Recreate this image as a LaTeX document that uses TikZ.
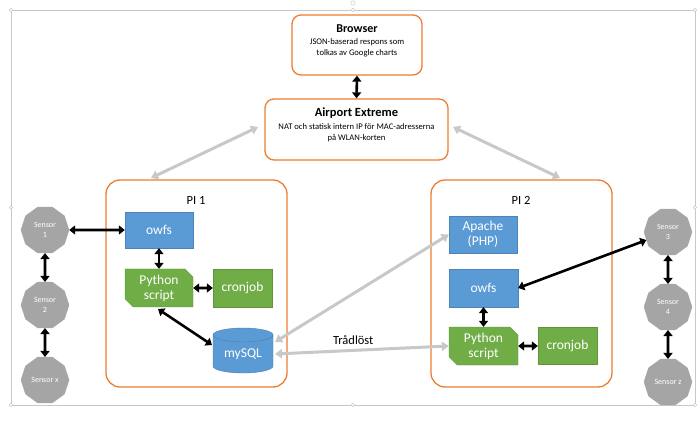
\documentclass[tikz,border=0pt]{standalone}
\usepackage{fontspec}
\setmainfont{Carlito}
\usetikzlibrary{shapes.geometric,shapes.misc,arrows.meta}
\definecolor{ora}{HTML}{ED7D31}
\definecolor{bl}{HTML}{5B9BD5}
\definecolor{gr}{HTML}{70AD47}
\definecolor{sens}{HTML}{A5A5A5}
\definecolor{frm}{HTML}{C8C8C8}
\begin{document}
\begin{tikzpicture}[x=1pt,y=1pt,
  pibox/.style={draw=ora,line width=1.3pt,rounded corners=14pt,fill=white},
  topbox/.style={draw=ora,line width=1.3pt,rounded corners=9pt,fill=white,align=center},
  bluebox/.style={fill=bl,draw=bl!85!black,line width=0.3pt,text=white,font=\fontsize{13.5}{15}\selectfont,align=center,inner sep=0pt},
  greenbox/.style={fill=gr,draw=gr!85!black,line width=0.3pt,text=white,font=\fontsize{13.5}{15}\selectfont,align=center,inner sep=0pt},
  pyshape/.style={greenbox,chamfered rectangle,chamfered rectangle corners={north east,south west},chamfered rectangle xsep=4pt,chamfered rectangle ysep=4pt},
  sensor/.style={regular polygon,regular polygon sides=10,fill=sens,draw=sens,minimum size=48pt,inner sep=0pt,text=white,align=center,font=\fontsize{8}{9.5}\selectfont},
  blk/.style={line width=2.6pt,{Triangle[length=6pt,width=9pt]}-{Triangle[length=6pt,width=9pt]},black},
  gry/.style={line width=3pt,{Triangle[length=7pt,width=9pt]}-{Triangle[length=7pt,width=9pt]},frm},
]
\useasboundingbox (0,0) rectangle (700,420);
% selection frame
\draw[frm,line width=0.6pt] (11,15) rectangle (695,410);
\foreach \p in {(11,15),(11,410),(695,15),(695,410),(353,410),(353,15),(11,212.5),(695,212.5)}
  \draw[frm,fill=white,line width=0.5pt] \p circle (1.8pt);
\draw[frm,fill=white,line width=0.5pt] (353,417) circle (2.2pt);

% top boxes
\node[topbox,minimum width=130pt,minimum height=60pt] (browser) at (357,375) {};
\node[font=\bfseries\fontsize{12}{14}\selectfont] (browsert) at (357,391) {Browser};
\node[font=\fontsize{8.6}{10.5}\selectfont,align=center] (browserd) at (357,372) {JSON-baserad respons som\\tolkas av Google charts};
\node[topbox,minimum width=183pt,minimum height=61pt] (airport) at (356.5,290.5) {};
\node[font=\bfseries\fontsize{12.5}{14}\selectfont] (airportt) at (356.5,307) {Airport Extreme};
\node[font=\fontsize{8.6}{11}\selectfont,align=center] (airportd) at (356.5,287) {NAT och statisk intern IP för MAC-adresserna\\på WLAN-korten};

% PI boxes
\node[pibox,minimum width=181pt,minimum height=207pt] (pi1) at (196.5,136.5) {};
\node[pibox,minimum width=181pt,minimum height=207pt] (pi2) at (521.5,136.5) {};
\node[font=\fontsize{12.5}{14}\selectfont] (pi1t) at (196,220) {PI 1};
\node[font=\fontsize{12.5}{14}\selectfont] (pi2t) at (521,220) {PI 2};

% PI1 content
\node[bluebox,minimum width=68pt,minimum height=36pt] (owfs1) at (159,190) {owfs};
\node[pyshape,minimum width=68pt,minimum height=38pt] (py1) at (159,132) {Python\\script};
\node[greenbox,minimum width=59pt,minimum height=38pt] (cron1) at (242.5,132) {cronjob};
% mySQL cylinder
\node[minimum width=60pt,minimum height=45pt,inner sep=0pt] (mysql) at (243,69.5) {};
\fill[bl] (213,85) -- (213,54) arc[start angle=180,end angle=360,x radius=30pt,y radius=7pt] -- (273,85) arc[start angle=0,end angle=180,x radius=30pt,y radius=7pt] -- cycle;
\draw[bl!80!black,line width=0.4pt] (213,85) -- (213,54) arc[start angle=180,end angle=360,x radius=30pt,y radius=7pt] -- (273,85);
\draw[bl!80!black,line width=0.4pt] (243,85) ellipse[x radius=30pt,y radius=7pt];
\node[text=white,font=\fontsize{13.5}{15}\selectfont] (mysqlt) at (243,66) {mySQL};

% PI2 content
\node[bluebox,minimum width=68pt,minimum height=37pt] (apache) at (483,185.5) {Apache\\(PHP)};
\node[bluebox,minimum width=69pt,minimum height=38pt] (owfs2) at (483.5,132) {owfs};
\node[pyshape,minimum width=69pt,minimum height=38pt] (py2) at (483.5,74) {Python\\script};
\node[greenbox,minimum width=59pt,minimum height=37pt] (cron2) at (567.5,74) {cronjob};

% sensors
\node[sensor] (s1) at (45,190) {Sensor\\1};
\node[sensor] (s2) at (45,115) {Sensor\\2};
\node[sensor] (sx) at (45,40) {Sensor x};
\node[sensor] (s3) at (668,188) {Sensor\\3};
\node[sensor] (s4) at (668,113) {Sensor\\4};
\node[sensor] (sz) at (668,38) {Sensor z};

% black connectors
\draw[blk] (browser.south) -- (airport.north);
\draw[blk] (s1) -- (owfs1.west);
\draw[blk] (s1) -- (s2);
\draw[blk] (s2) -- (sx);
\draw[blk] (owfs1) -- (py1);
\draw[blk] (py1) -- (cron1);
\coordinate (p1s) at (158,111);
\coordinate (mq) at (212,75);
\draw[blk] (p1s) -- (mq);
\draw[blk] (owfs2.east) -- (s3);
\draw[blk] (owfs2) -- (py2);
\draw[blk] (py2) -- (cron2);
\draw[blk] (s3) -- (s4);
\draw[blk] (s4) -- (sz);

% gray connectors
\coordinate (aL) at (258,293);
\coordinate (aR) at (453,293);
\coordinate (p1top) at (151,242);
\coordinate (p2top) at (560,242);
\draw[gry] (aL) -- (p1top);
\draw[gry] (aR) -- (p2top);
\coordinate (mq1) at (275,78);
\coordinate (mq2) at (275,66);
\draw[gry] (mq1) -- (apache.west);
\draw[gry] (mq2) -- (py2.west) node[pos=0.45,above=1pt,black,font=\fontsize{12.5}{14}\selectfont] (wl) {Trådlöst};
\end{tikzpicture}
\end{document}
